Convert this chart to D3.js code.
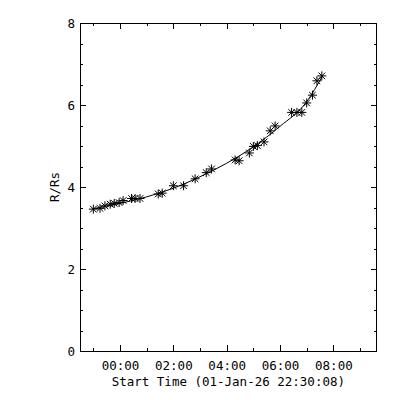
<!DOCTYPE html>
<html>
<head>
<meta charset="utf-8">
<script src="https://cdn.jsdelivr.net/npm/d3@7"></script>
<style>
  html, body { margin: 0; padding: 0; background: #fff; }
  svg { display: block; }
  text { font-family: "DejaVu Sans Mono", monospace; font-size: 12.5px; fill: #000; }
</style>
</head>
<body>
<svg id="chart" width="400" height="400"></svg>
<script>
// ---- data (times as clock strings; start 01-Jan-26 22:30:08) ----
const obsTimes = ["23:00","23:15","23:26","23:38","23:47","23:58","00:07","00:26","00:34","00:45",
                  "01:26","01:35","02:00","02:23","02:49","03:14","03:26","04:19","04:28","04:51",
                  "05:00","05:09","05:24","05:38","05:49","06:26","06:38","06:49","07:00","07:13",
                  "07:23","07:34"];
const obsR = [3.46,3.48,3.54,3.58,3.60,3.62,3.67,3.72,3.72,3.72,
              3.83,3.85,4.03,4.03,4.20,4.35,4.44,4.66,4.64,4.83,
              4.99,5.01,5.10,5.37,5.49,5.82,5.82,5.82,6.05,6.24,
              6.59,6.71];
// fitted curve
const fitTimes = ["23:00","00:00","01:00","02:00","03:00","04:00","05:00","06:00","07:00","07:36"];
const fitR = [3.47,3.60,3.76,3.97,4.25,4.58,4.98,5.48,6.08,6.72];
const xTickValues = [0,2,4,6,8];
const xTickLabels = ["00:00","02:00","04:00","06:00","08:00"];
const xMinorValues = [-1,1,3,5,7,9];
const yTickValues = [0,2,4,6,8];
const yTickLabels = ["0","2","4","6","8"];
const yMinorValues = [0.5,1,1.5,2.5,3,3.5,4.5,5,5.5,6.5,7,7.5];
const xTitle = "Start Time (01-Jan-26 22:30:08)";
const yTitle = "R/Rs";

// hours relative to 00:00 on 02-Jan (times >= 22:00 are on 01-Jan)
function toHours(s) {
  const [h, m] = s.split(":").map(Number);
  let v = h + m / 60;
  if (h >= 22) v -= 24;
  return v;
}

const L = 80, R = 376.7, T = 23, B = 351;
const svg = d3.select("#chart");
const x = d3.scaleLinear().domain([-1.5, 9.625]).range([L, R]);
const y = d3.scaleLinear().domain([0, 8]).range([B, T]);

function styleAxis(g) {
  g.select(".domain").remove();
  g.selectAll("line").attr("stroke", "#000").attr("shape-rendering", "crispEdges");
}

// major ticks with labels
svg.append("g").attr("transform", `translate(0,${B})`)
  .call(d3.axisBottom(x).tickValues(xTickValues).tickSize(-6).tickPadding(10)
        .tickFormat((d, i) => xTickLabels[i]))
  .call(styleAxis)
  .call(g => g.selectAll("text").attr("font-size", null).attr("font-family", null));
svg.append("g").attr("transform", `translate(0,${T})`)
  .call(d3.axisTop(x).tickValues(xTickValues).tickSize(-6).tickFormat(""))
  .call(styleAxis);
svg.append("g").attr("transform", `translate(${L},0)`)
  .call(d3.axisLeft(y).tickValues(yTickValues).tickSize(-6).tickPadding(5)
        .tickFormat((d, i) => yTickLabels[i]))
  .call(styleAxis)
  .call(g => g.selectAll("text").attr("font-size", null).attr("font-family", null));
svg.append("g").attr("transform", `translate(${R},0)`)
  .call(d3.axisRight(y).tickValues(yTickValues).tickSize(-6).tickFormat(""))
  .call(styleAxis);

// minor ticks
svg.append("g").attr("transform", `translate(0,${B})`)
  .call(d3.axisBottom(x).tickValues(xMinorValues.filter(v => x(v) < R - 1)).tickSize(-3).tickFormat(""))
  .call(styleAxis);
svg.append("g").attr("transform", `translate(0,${T})`)
  .call(d3.axisTop(x).tickValues(xMinorValues.filter(v => x(v) < R - 1)).tickSize(-3).tickFormat(""))
  .call(styleAxis);
svg.append("g").attr("transform", `translate(${L},0)`)
  .call(d3.axisLeft(y).tickValues(yMinorValues).tickSize(-3).tickFormat(""))
  .call(styleAxis);
svg.append("g").attr("transform", `translate(${R},0)`)
  .call(d3.axisRight(y).tickValues(yMinorValues).tickSize(-3).tickFormat(""))
  .call(styleAxis);

// frame
svg.append("rect").attr("x", L).attr("y", T).attr("width", R - L).attr("height", B - T)
  .attr("fill", "none").attr("stroke", "#000").attr("shape-rendering", "crispEdges");

// titles
svg.append("text").attr("x", (L + R) / 2).attr("y", 386).attr("text-anchor", "middle").text(xTitle);
svg.append("text").attr("transform", `translate(59,${(T + B) / 2}) rotate(-90)`)
  .attr("text-anchor", "middle").text(yTitle);

// fit line
const fitData = fitTimes.map((t, i) => [toHours(t), fitR[i]]);
svg.append("path").datum(fitData)
  .attr("fill", "none").attr("stroke", "#000").attr("stroke-width", 1)
  .attr("d", d3.line().x(d => x(d[0])).y(d => y(d[1])).curve(d3.curveMonotoneX));

// asterisk markers
const pts = obsTimes.map((t, i) => [toHours(t), obsR[i]]);
const a = 4.5, b = 3.3;
const starPath = `M${-a},0L${a},0M0,${-a}L0,${a}M${-b},${-b}L${b},${b}M${-b},${b}L${b},${-b}`;
svg.append("g").selectAll("path").data(pts).join("path")
  .attr("transform", d => `translate(${x(d[0])},${y(d[1])})`)
  .attr("d", starPath).attr("fill", "none").attr("stroke", "#000").attr("stroke-width", 1);
</script>
</body>
</html>
